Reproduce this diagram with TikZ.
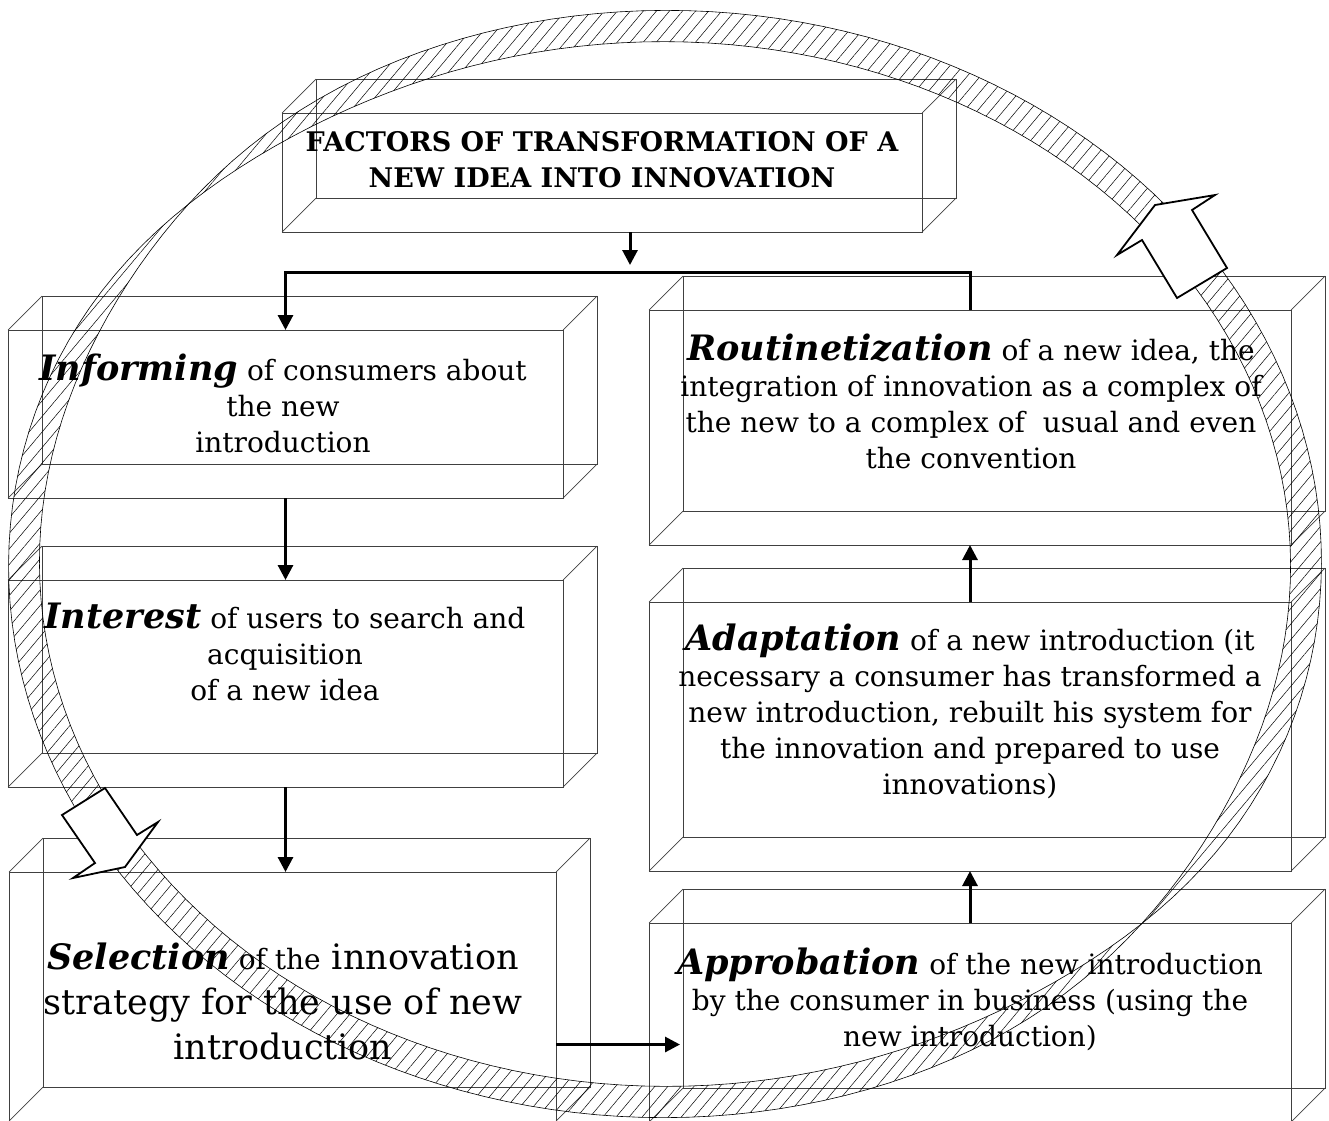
\documentclass[tikz,border=0pt]{standalone}
\usepackage{fontspec}
\setmainfont{DejaVu Serif}
\usetikzlibrary{arrows.meta,patterns.meta}

\newcommand\term[1]{{\fontsize{35}{36}\selectfont\bfseries\itshape #1}}
\newcommand\cuboid[1]{%
  \draw [edge] ([shift={(34,-34)}]#1.north west) rectangle ([shift={(34,-34)}]#1.south east);
  \foreach \corner in {north west,north east,south west,south east}
    \draw [edge] (#1.\corner) -- ([shift={(34,-34)}]#1.\corner);
}

\begin{document}
\begin{tikzpicture} [
    x=1pt, y=-1pt,
    face/.style    = { rectangle, draw=black!75, line width=0.7pt,
                       inner sep=0pt, outer sep=0pt },
    edge/.style    = { draw=black!75, line width=0.7pt },
    caption/.style = { align=center, inner sep=0pt,
                       font=\fontsize{28}{36}\selectfont },
    line/.style    = { draw, line width=3pt, -{Triangle[length=15pt,width=15pt]} },
    ring/.style    = { pattern={Lines[angle=50,distance=10pt,line width=0.5pt]} },
    rim/.style     = { draw, line width=0.6pt },
    marker/.style  = { draw, line width=1.8pt, fill=white, line join=miter },
    declare function = { bw(\t) = 16*tanh(3*sin(\t-138)); },
  ]
  \useasboundingbox (0,0) rectangle (1329,1120);

  % front faces of the blocks
  \node[face, minimum width=640pt, minimum height=119pt] (title)    at (602,172.5) {};
  \node[face, minimum width=555pt, minimum height=168pt] (inform)   at (285.5,414) {};
  \node[face, minimum width=555pt, minimum height=207pt] (interest) at (285.5,683.5) {};
  \node[face, minimum width=547pt, minimum height=249pt] (select)   at (282.5,996.5) {};
  \node[face, minimum width=642pt, minimum height=235pt] (rout)     at (970,427.5) {};
  \node[face, minimum width=642pt, minimum height=269pt] (adapt)    at (970,736.5) {};
  \node[face, minimum width=642pt, minimum height=199pt] (approb)   at (970,1022.5) {};

  % back faces and depth edges
  \cuboid{title}
  \cuboid{inform}
  \cuboid{interest}
  \cuboid{select}
  \cuboid{rout}
  \cuboid{adapt}
  \cuboid{approb}

  % texts
  \node[caption, font=\fontsize{27}{36}\selectfont\bfseries] (titletxt) at (602,160)
    {FACTORS OF TRANSFORMATION OF A\\NEW IDEA INTO INNOVATION};
  \node[caption] (informtxt) at (283,403)
    {\term{Informing} of consumers about\\the new\\introduction};
  \node[caption] (interesttxt) at (285,652)
    {\term{Interest} of users to search and\\acquisition\\of a new idea};
  \node[caption, font=\fontsize{35}{45}\selectfont] (selecttxt) at (283,1001)
    {\term{Selection}{\fontsize{28}{36}\selectfont{} of the} innovation\\strategy for the use of new\\introduction};
  \node[caption] (routtxt) at (971,401)
    {\term{Routinetization} of a new idea, the\\integration of innovation as a complex of\\the new to a complex of\ \ usual and even\\the convention};
  \node[caption] (adapttxt) at (970,711)
    {\term{Adaptation} of a new introduction (it\\necessary a consumer has transformed a\\new introduction, rebuilt his system for\\the innovation and prepared to use\\innovations)};
  \node[caption] (approbtxt) at (970,999)
    {\term{Approbation} of the new introduction\\by the consumer in business (using the\\new introduction)};

  % connect the nodes
  \coordinate (split) at (630,272);
  \coordinate (selout) at ([yshift=-48pt]select.east);
  \coordinate (approbin) at ([xshift=31pt]approb.west);
  \path [line] (title.south -| split) -- ([yshift=7pt]split);
  \path [line] (rout.north) -- (rout.north |- split) -- (split -| inform.north) -- (inform.north);
  \path [line] (inform.south) -- (interest.north);
  \path [line] (interest.south) -- (select.north -| interest.south);
  \path [line] (selout) -- (selout -| approbin);
  \path [line] (approb.north) -- (adapt.south);
  \path [line] (adapt.north) -- (rout.south);

  % twisted hatched ring
  \path [ring]
    plot [domain=0:360, samples=181] ({665+(641+bw(\x))*cos(\x)}, {564-(538+bw(\x))*sin(\x)})
    -- plot [domain=360:0, samples=181] ({665+(641-bw(\x))*cos(\x)}, {564-(538-bw(\x))*sin(\x)})
    -- cycle;
  \draw [rim] plot [domain=0:360, samples=181] ({665+(641+bw(\x))*cos(\x)}, {564-(538+bw(\x))*sin(\x)});
  \draw [rim] plot [domain=0:360, samples=181] ({665+(641-bw(\x))*cos(\x)}, {564-(538-bw(\x))*sin(\x)});

  % block arrows on the ring
  \draw [marker] (1155,205) -- (1215,195) -- (1192,210) -- (1227,268)
    -- (1177,298) -- (1142,240) -- (1117,255) -- cycle;
  \draw [marker] (62,815) -- (105,788) -- (137,835) -- (158,822)
    -- (125,867) -- (73,878) -- (95,863) -- cycle;
\end{tikzpicture}
\end{document}
